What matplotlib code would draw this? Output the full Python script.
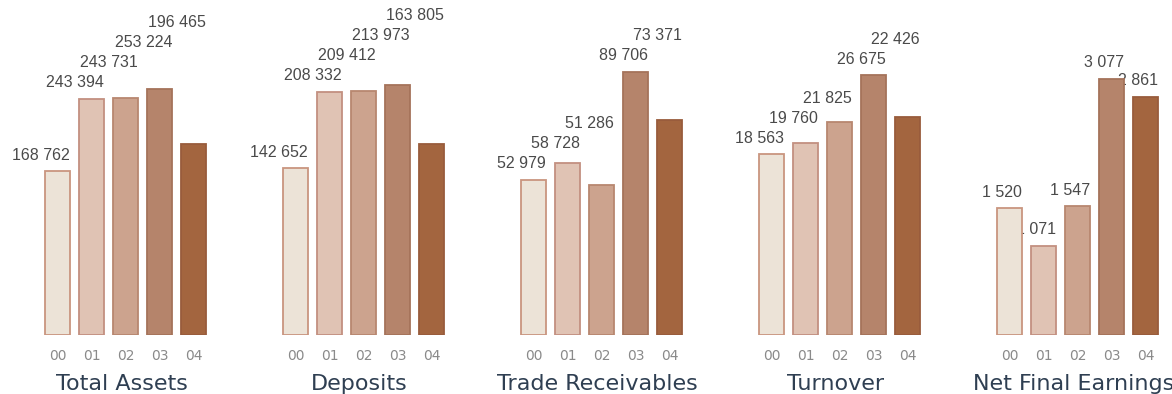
import matplotlib.pyplot as plt

years = ["00", "01", "02", "03", "04"]
titles = ["Total Assets", "Deposits", "Trade Receivables", "Turnover", "Net Final Earnings"]
total_assets = [168762, 243394, 243731, 253224, 196465]
deposits = [142652, 208332, 209412, 213973, 163805]
trade_receivables = [52979, 58728, 51286, 89706, 73371]
turnover = [18563, 19760, 21825, 26675, 22426]
net_final_earnings = [1520, 1071, 1547, 3077, 2861]
series = [total_assets, deposits, trade_receivables, turnover, net_final_earnings]

# each panel has its own scale
y_tops = [345000, 287000, 114200, 34400, 4020]

fills = ["#ece3d7", "#e0c3b4", "#cca38e", "#b5846b", "#a3653f"]
edges = ["#c9957f", "#c39080", "#b8876f", "#a5735a", "#985c3c"]

W, H = 1172, 394
fig = plt.figure(figsize=(W / 100, H / 100), dpi=100)
renderer = fig.canvas.get_renderer()

lift = 16   # px between bar top and label centre
gap = 20    # px between stacked labels

for p, (title, vals, top) in enumerate(zip(titles, series, y_tops)):
    left = 40.5 + 238 * p
    ax = fig.add_axes([left / W, 59 / H, 170 / W, 335 / H])
    x = range(len(vals))
    bars = ax.bar(x, vals, width=0.74, color=fills, edgecolor=edges,
                  linewidth=1.3, zorder=3)
    ax.set_xlim(-0.5, 4.5)
    ax.set_ylim(0, top)
    ax.set_xticks(list(x), years)
    ax.tick_params(axis="x", length=0, pad=10, labelsize=10, labelcolor="#8a8a8a")
    ax.set_yticks([])
    for s in ax.spines.values():
        s.set_visible(False)

    # labels never sit below an earlier label they overlap sideways
    placed = []
    for b, v in zip(bars, vals):
        right = b.get_x() + b.get_width()
        xr, ytop = ax.transData.transform((right, v))
        t = ax.annotate(f"{v:,}".replace(",", " "), (right, v), xytext=(0, 0),
                        textcoords="offset points", ha="right", va="center",
                        fontsize=11.5, family="Liberation Sans", color="#4a4a4a",
                        zorder=1, annotation_clip=False)
        w = t.get_window_extent(renderer).width
        cy = ytop + lift
        for (l0, r0, y0) in placed:
            if min(xr, r0) - max(xr - w, l0) > 9:
                cy = max(cy, y0 + gap)
        placed.append((xr - w, xr, cy))
        t.xyann = (0, (cy - ytop) * 72 / 100)

    ax.text(0.5 - 4 / 170, -55 / 335, title, transform=ax.transAxes,
            ha="center", va="baseline", fontsize=16, color="#2f3f52")

fig.savefig("out.png", dpi=100)
